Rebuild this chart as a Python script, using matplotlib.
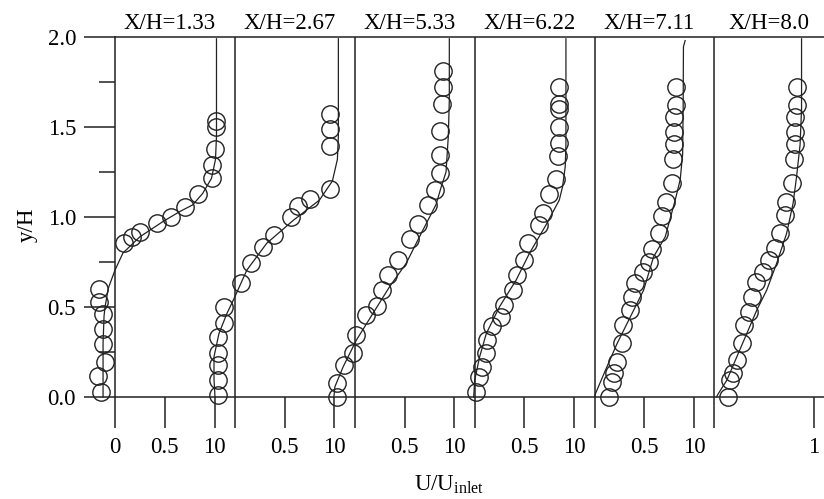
import matplotlib
matplotlib.use('Agg')
import matplotlib.pyplot as plt

plt.rcParams['font.family'] = ['Liberation Serif', 'DejaVu Serif']
plt.rcParams['mathtext.fontset'] = 'custom'
plt.rcParams['mathtext.rm'] = 'Liberation Serif'

# station labels
stations = ['X/H=1.33', 'X/H=2.67', 'X/H=5.33', 'X/H=6.22', 'X/H=7.11', 'X/H=8.0']

# measured profiles (U/Uinlet, y/H), one pair of lists per station
exp_u1 = [-0.14, -0.17, -0.10, -0.12, -0.12, -0.12, -0.16, -0.16, 0.09, 0.17, 0.25, 0.42, 0.56, 0.70, 0.83, 0.97, 0.97, 1.01, 1.02, 1.02]
exp_y1 = [0.03, 0.117, 0.193, 0.294, 0.376, 0.461, 0.53, 0.598, 0.854, 0.887, 0.918, 0.965, 1.0, 1.057, 1.13, 1.215, 1.29, 1.38, 1.50, 1.535]
exp_u2 = [-0.17, -0.17, -0.17, -0.17, -0.17, -0.11, -0.11, 0.06, 0.16, 0.28, 0.39, 0.56, 0.63, 0.75, 0.955, 0.955, 0.955, 0.955]
exp_y2 = [0.011, 0.094, 0.178, 0.243, 0.331, 0.409, 0.498, 0.631, 0.743, 0.835, 0.90, 1.0, 1.06, 1.10, 1.154, 1.394, 1.49, 1.57]
exp_u3 = [-0.18, -0.18, -0.11, -0.02, 0.01, 0.11, 0.22, 0.27, 0.335, 0.435, 0.55, 0.635, 0.735, 0.81, 0.86, 0.855, 0.855, 0.88, 0.885, 0.885]
exp_y3 = [0.0, 0.076, 0.178, 0.243, 0.344, 0.456, 0.506, 0.594, 0.678, 0.761, 0.876, 0.961, 1.067, 1.15, 1.246, 1.344, 1.478, 1.628, 1.724, 1.813]
exp_u4 = [0.017, 0.043, 0.077, 0.11, 0.127, 0.173, 0.26, 0.29, 0.383, 0.423, 0.5, 0.533, 0.643, 0.683, 0.75, 0.817, 0.833, 0.845, 0.85, 0.85, 0.85, 0.85]
exp_y4 = [0.03, 0.113, 0.168, 0.243, 0.317, 0.394, 0.446, 0.511, 0.594, 0.678, 0.761, 0.857, 0.956, 1.02, 1.128, 1.209, 1.339, 1.41, 1.50, 1.60, 1.63, 1.72]
exp_u5 = [0.143, 0.177, 0.193, 0.227, 0.277, 0.287, 0.36, 0.377, 0.41, 0.487, 0.543, 0.577, 0.643, 0.68, 0.72, 0.777, 0.793, 0.803, 0.803, 0.803, 0.82, 0.82]
exp_y5 = [0.0, 0.085, 0.131, 0.196, 0.298, 0.40, 0.483, 0.557, 0.631, 0.696, 0.752, 0.82, 0.909, 1.006, 1.085, 1.187, 1.32, 1.406, 1.474, 1.554, 1.622, 1.72]
exp_u6 = [0.14, 0.16, 0.19, 0.23, 0.28, 0.295, 0.345, 0.38, 0.42, 0.49, 0.545, 0.61, 0.66, 0.71, 0.72, 0.78, 0.795, 0.81, 0.81, 0.81, 0.83, 0.83]
exp_y6 = [0.0, 0.094, 0.131, 0.206, 0.298, 0.40, 0.474, 0.557, 0.641, 0.696, 0.761, 0.826, 0.909, 1.01, 1.085, 1.187, 1.32, 1.406, 1.474, 1.554, 1.622, 1.72]

# computed profiles
sim_u1 = [-0.12, -0.12, -0.11, -0.10, -0.067, 0.0, 0.08, 0.25, 0.48, 0.65, 0.78, 0.88, 0.97, 1.01, 1.02, 1.02]
sim_y1 = [0.0, 0.3, 0.45, 0.50, 0.605, 0.705, 0.80, 0.89, 0.974, 1.03, 1.067, 1.13, 1.215, 1.32, 1.45, 1.99]
sim_u2 = [-0.20, -0.21, -0.21, -0.16, -0.08, 0.0, 0.12, 0.32, 0.59, 0.85, 0.98, 1.03, 1.04, 1.04]
sim_y2 = [0.0, 0.10, 0.224, 0.353, 0.464, 0.557, 0.705, 0.854, 0.983, 1.094, 1.20, 1.32, 1.45, 1.99]
sim_u3 = [-0.21, -0.20, -0.117, 0.017, 0.183, 0.35, 0.517, 0.65, 0.817, 0.87, 0.917, 0.94, 0.95, 0.95]
sim_y3 = [0.0, 0.057, 0.168, 0.317, 0.465, 0.613, 0.743, 0.89, 1.07, 1.17, 1.25, 1.45, 1.65, 1.99]
sim_u4 = [-0.01, 0.0, 0.05, 0.117, 0.25, 0.417, 0.55, 0.717, 0.85, 0.883, 0.91, 0.917, 0.917]
sim_y4 = [0.0, 0.094, 0.224, 0.353, 0.502, 0.65, 0.798, 0.956, 1.094, 1.168, 1.28, 1.4, 1.99]
sim_u5 = [0.0, 0.01, 0.11, 0.227, 0.36, 0.493, 0.593, 0.71, 0.81, 0.86, 0.885, 0.89, 0.893, 0.91]
sim_y5 = [0.0, 0.02, 0.15, 0.298, 0.446, 0.594, 0.779, 0.89, 1.094, 1.206, 1.35, 1.6, 1.946, 1.98]
sim_u6 = [0.02, 0.04, 0.125, 0.225, 0.325, 0.425, 0.525, 0.625, 0.725, 0.79, 0.825, 0.86, 0.875, 0.875]
sim_y6 = [0.0, 0.02, 0.094, 0.224, 0.353, 0.483, 0.594, 0.743, 0.909, 1.076, 1.224, 1.4, 1.6, 1.99]

exp_u = [exp_u1, exp_u2, exp_u3, exp_u4, exp_u5, exp_u6]
exp_y = [exp_y1, exp_y2, exp_y3, exp_y4, exp_y5, exp_y6]
sim_u = [sim_u1, sim_u2, sim_u3, sim_u4, sim_u5, sim_u6]
sim_y = [sim_y1, sim_y2, sim_y3, sim_y4, sim_y5, sim_y6]

shift = 1.205  # horizontal offset between stations
fs = 16.5

fig = plt.figure(figsize=(8.24, 4.99), dpi=100)
ax = fig.add_axes([115/824, 102/499, 709/824, 360/499])

for i in range(6):
    x0 = i * shift
    if i > 0:
        ax.axvline(x0, color='#222222', lw=1.1)
    ax.plot([x0 + u for u in sim_u[i]], sim_y[i], color='#222222', lw=0.9, clip_on=False)
    ax.plot([x0 + u for u in exp_u[i]], exp_y[i], 'o', ms=12.5, mfc='none', mec='#222222',
            mew=1.0, clip_on=False)
    ax.text(x0 + 0.55, 2.044, stations[i], ha='center', va='baseline', fontsize=fs)

ax.set_xlim(0, 709/99.5)
ax.set_ylim(0, 2)

xt, xl = [], []
for i in range(6):
    x0 = i * shift
    if i < 5:
        xt += [x0, x0 + 0.5, x0 + 1]
        xl += ['0' if i == 0 else '', '0.5', '10']
    else:
        xt += [x0, x0 + 1]
        xl += ['', '1']
ax.set_xticks(xt)
ax.set_xticklabels(xl)
ax.set_yticks([0, 0.5, 1.0, 1.5, 2.0])
ax.set_yticklabels(['0.0', '0.5', '1.0', '1.5', '2.0'])
ax.set_yticks([0.25, 0.75, 1.25, 1.75], minor=True)

ax.tick_params(axis='both', which='major', direction='out', length=22, width=1.1,
               color='#222222', labelsize=fs)
ax.tick_params(axis='x', pad=7)
ax.tick_params(axis='y', pad=6)
ax.tick_params(axis='y', which='minor', direction='out', length=11.5, width=1.1, color='#222222')

ax.spines['right'].set_visible(False)
for s in ['left', 'top', 'bottom']:
    ax.spines[s].set_linewidth(1.1)
    ax.spines[s].set_color('#222222')

fig.text(449/824, 1 - 485/499, r'U/U$_{\mathrm{inlet}}$', ha='center', va='center', fontsize=fs)
fig.text(27/824, 1 - 225/499, 'y/H', ha='center', va='center', rotation=90, fontsize=fs)

fig.savefig('out.png', dpi=100)
plt.close('all')
